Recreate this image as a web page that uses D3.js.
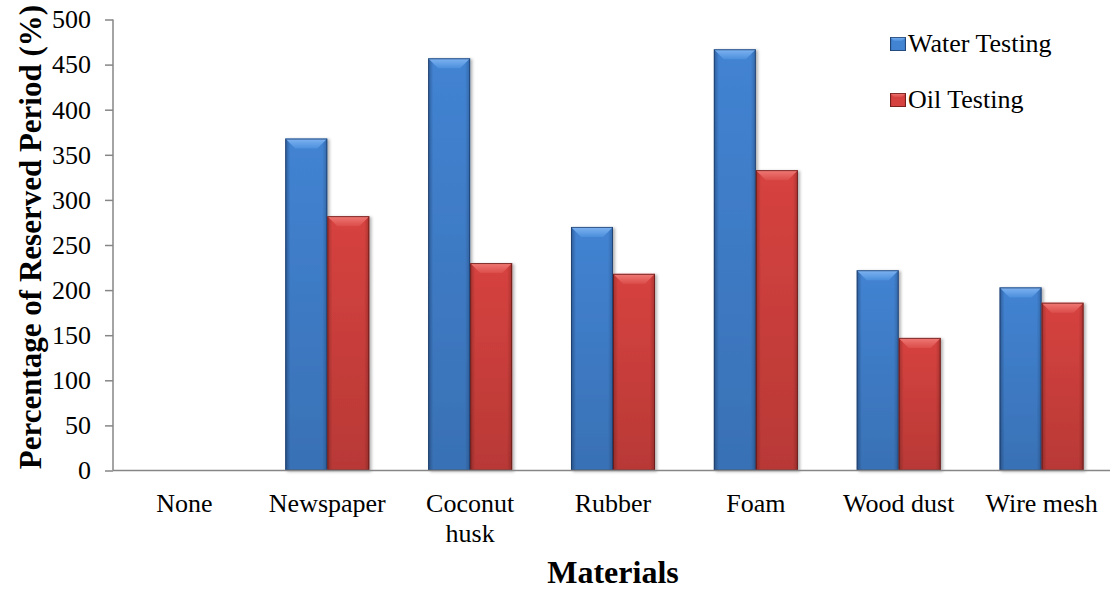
<!DOCTYPE html>
<html>
<head>
<meta charset="utf-8">
<script src="https://cdn.jsdelivr.net/npm/d3@7"></script>
<style>
  html, body { margin: 0; padding: 0; background: #fff; }
  svg { display: block; }
  svg text { font-family: "Times New Roman", "Liberation Serif", Tinos, "DejaVu Serif", serif !important; fill: #000; }
</style>
</head>
<body>
<svg id="chart" width="1110" height="590"></svg>
<script>
const categories = ["None", "Newspaper", "Coconut husk", "Rubber", "Foam", "Wood dust", "Wire mesh"];
const seriesNames = ["Water Testing", "Oil Testing"];
const waterTesting = [0, 368, 457, 270, 467, 222, 203];
const oilTesting = [0, 282, 230, 218, 333, 147, 186];
const yTicks = [0, 50, 100, 150, 200, 250, 300, 350, 400, 450, 500];
const yTitle = "Percentage of Reserved Period (%)";
const xTitle = "Materials";

const FONT = '"Times New Roman", "Liberation Serif", Tinos, "DejaVu Serif", serif';

const seriesValues = [waterTesting, oilTesting];
const data = categories.map((c, i) => ({
  category: c,
  values: seriesNames.map((s, j) => ({ series: s, value: seriesValues[j][i] }))
}));

const svg = d3.select("#chart").attr("font-family", FONT);
const margin = { left: 113, right: 1113, top: 19.5, bottom: 470.5 };

const x0 = d3.scaleBand().domain(categories).range([margin.left, margin.right]).paddingInner(0).paddingOuter(0);
const gapRatio = 1.4;
const barW = x0.bandwidth() / (2 + gapRatio);
const x1 = d3.scaleBand().domain(seriesNames)
  .range([x0.bandwidth() / 2 - barW, x0.bandwidth() / 2 + barW]).padding(0);
const y = d3.scaleLinear().domain([0, 500]).range([margin.bottom, margin.top]);

const palette = {
  "Water Testing": { edgeL: "#2d5c99", mid: "#4283d2", edgeR: "#3367a8", bevelT: "#7fb4f2", bevelB: "#4c8fdc", stroke: "#1c3a66" },
  "Oil Testing":   { edgeL: "#a33230", mid: "#d6423f", edgeR: "#ab3331", bevelT: "#f07a76", bevelB: "#db4d4a", stroke: "#5e1816" }
};

const defs = svg.append("defs");
seriesNames.forEach((s, i) => {
  const p = palette[s];
  const g = defs.append("linearGradient").attr("id", "side" + i).attr("x1", 0).attr("x2", 1).attr("y1", 0).attr("y2", 0);
  g.append("stop").attr("offset", "0%").attr("stop-color", p.edgeL);
  g.append("stop").attr("offset", "12%").attr("stop-color", p.mid);
  g.append("stop").attr("offset", "50%").attr("stop-color", p.mid);
  g.append("stop").attr("offset", "88%").attr("stop-color", p.mid);
  g.append("stop").attr("offset", "100%").attr("stop-color", p.edgeR);
  const b = defs.append("linearGradient").attr("id", "bevel" + i).attr("x1", 0).attr("x2", 0).attr("y1", 0).attr("y2", 1);
  b.append("stop").attr("offset", "0%").attr("stop-color", p.bevelT);
  b.append("stop").attr("offset", "100%").attr("stop-color", p.bevelB);
});
const shade = defs.append("linearGradient").attr("id", "shade").attr("x1", 0).attr("x2", 0).attr("y1", 0).attr("y2", 1);
shade.append("stop").attr("offset", "0%").attr("stop-color", "#000").attr("stop-opacity", 0);
shade.append("stop").attr("offset", "100%").attr("stop-color", "#000").attr("stop-opacity", 0.14);
const f = defs.append("filter").attr("id", "shadow").attr("x", "-20%").attr("y", "-20%").attr("width", "150%").attr("height", "150%");
f.append("feDropShadow").attr("dx", 2).attr("dy", 1).attr("stdDeviation", 1.6).attr("flood-color", "#000").attr("flood-opacity", 0.3);

function drawBevelBar(g, x, yTop, w, h, idx) {
  const p = palette[seriesNames[idx]];
  if (h <= 0) return;
  const grp = g.append("g").attr("filter", "url(#shadow)");
  grp.append("rect").attr("x", x).attr("y", yTop).attr("width", w).attr("height", h)
    .attr("fill", `url(#side${idx})`);
  grp.append("rect").attr("x", x).attr("y", yTop).attr("width", w).attr("height", h)
    .attr("fill", "url(#shade)");
  const b = Math.min(10, w / 4, h / 2);
  grp.append("polygon")
    .attr("points", [[x, yTop], [x + w, yTop], [x + w - b, yTop + b], [x + b, yTop + b]].map(d => d.join(",")).join(" "))
    .attr("fill", `url(#bevel${idx})`);
  grp.append("rect").attr("x", x + 0.5).attr("y", yTop + 0.5).attr("width", w - 1).attr("height", h - 1)
    .attr("fill", "none").attr("stroke", p.stroke).attr("stroke-width", 1).attr("stroke-opacity", 0.75);
}

// Y axis
const yAxis = d3.axisLeft(y).tickValues(yTicks).tickSize(8).tickPadding(14);
const yg = svg.append("g").attr("transform", `translate(${margin.left},0)`).call(yAxis)
  .attr("font-family", FONT).attr("font-size", 26);
yg.select(".domain").attr("stroke", "#868686").attr("stroke-width", 1.5).attr("d", `M0,${margin.top}V${margin.bottom}`);
yg.selectAll(".tick line").attr("stroke", "#868686").attr("stroke-width", 1.5);
yg.selectAll(".tick text").attr("font-size", 26).attr("font-family", FONT).attr("fill", "#000");

// Bars
const barsG = svg.append("g");
data.forEach(d => {
  d.values.forEach((v, j) => {
    const bx = x0(d.category) + x1(v.series);
    const yTop = y(v.value);
    drawBevelBar(barsG, bx, yTop, x1.bandwidth(), y(0) - yTop, j);
  });
});

// X axis
const xAxis = d3.axisBottom(x0).tickSize(0).tickPadding(0);
const xg = svg.append("g").attr("transform", `translate(0,${margin.bottom})`).call(xAxis)
  .attr("font-family", FONT).attr("font-size", 26);
xg.select(".domain").attr("stroke", "#868686").attr("stroke-width", 1.5).attr("d", `M${margin.left},0H1110`);
xg.selectAll(".tick text").remove();
xg.selectAll(".tick").each(function(c) {
  const t = d3.select(this).append("text")
    .attr("text-anchor", "middle").attr("font-size", 26).attr("font-family", FONT).attr("y", 41.5).attr("fill", "#000");
  t.text(c);
  if (t.node().getComputedTextLength() > x0.bandwidth() * 0.95) {
    const words = c.split(" ");
    t.text(null);
    words.forEach((w, i) => t.append("tspan").attr("x", 0).attr("y", 41.5 + i * 30).text(w));
  }
});

// Axis titles
svg.append("text").attr("x", (margin.left + margin.right) / 2).attr("y", 583)
  .attr("text-anchor", "middle").attr("font-size", 32).attr("font-weight", "bold").attr("font-family", FONT).text(xTitle);
svg.append("text").attr("transform", "translate(41,237) rotate(-90)")
  .attr("text-anchor", "middle").attr("font-size", 31).attr("font-weight", "bold").attr("font-family", FONT)
  .text(yTitle);

// Legend
const legend = svg.append("g");
seriesNames.forEach((s, i) => {
  const ly = 37 + i * 56;
  const grp = legend.append("g");
  const p = palette[s];
  grp.append("rect").attr("x", 890).attr("y", ly).attr("width", 16).attr("height", 14).attr("fill", `url(#side${i})`);
  grp.append("polygon")
    .attr("points", [[890, ly], [906, ly], [902, ly + 4], [894, ly + 4]].map(d => d.join(",")).join(" "))
    .attr("fill", `url(#bevel${i})`);
  grp.append("rect").attr("x", 890.5).attr("y", ly + 0.5).attr("width", 15).attr("height", 13)
    .attr("fill", "none").attr("stroke", p.stroke).attr("stroke-width", 1).attr("stroke-opacity", 0.75);
  grp.append("text").attr("x", 908).attr("y", ly + 15).attr("font-size", 26).attr("font-family", FONT).text(s);
});
</script>
</body>
</html>
